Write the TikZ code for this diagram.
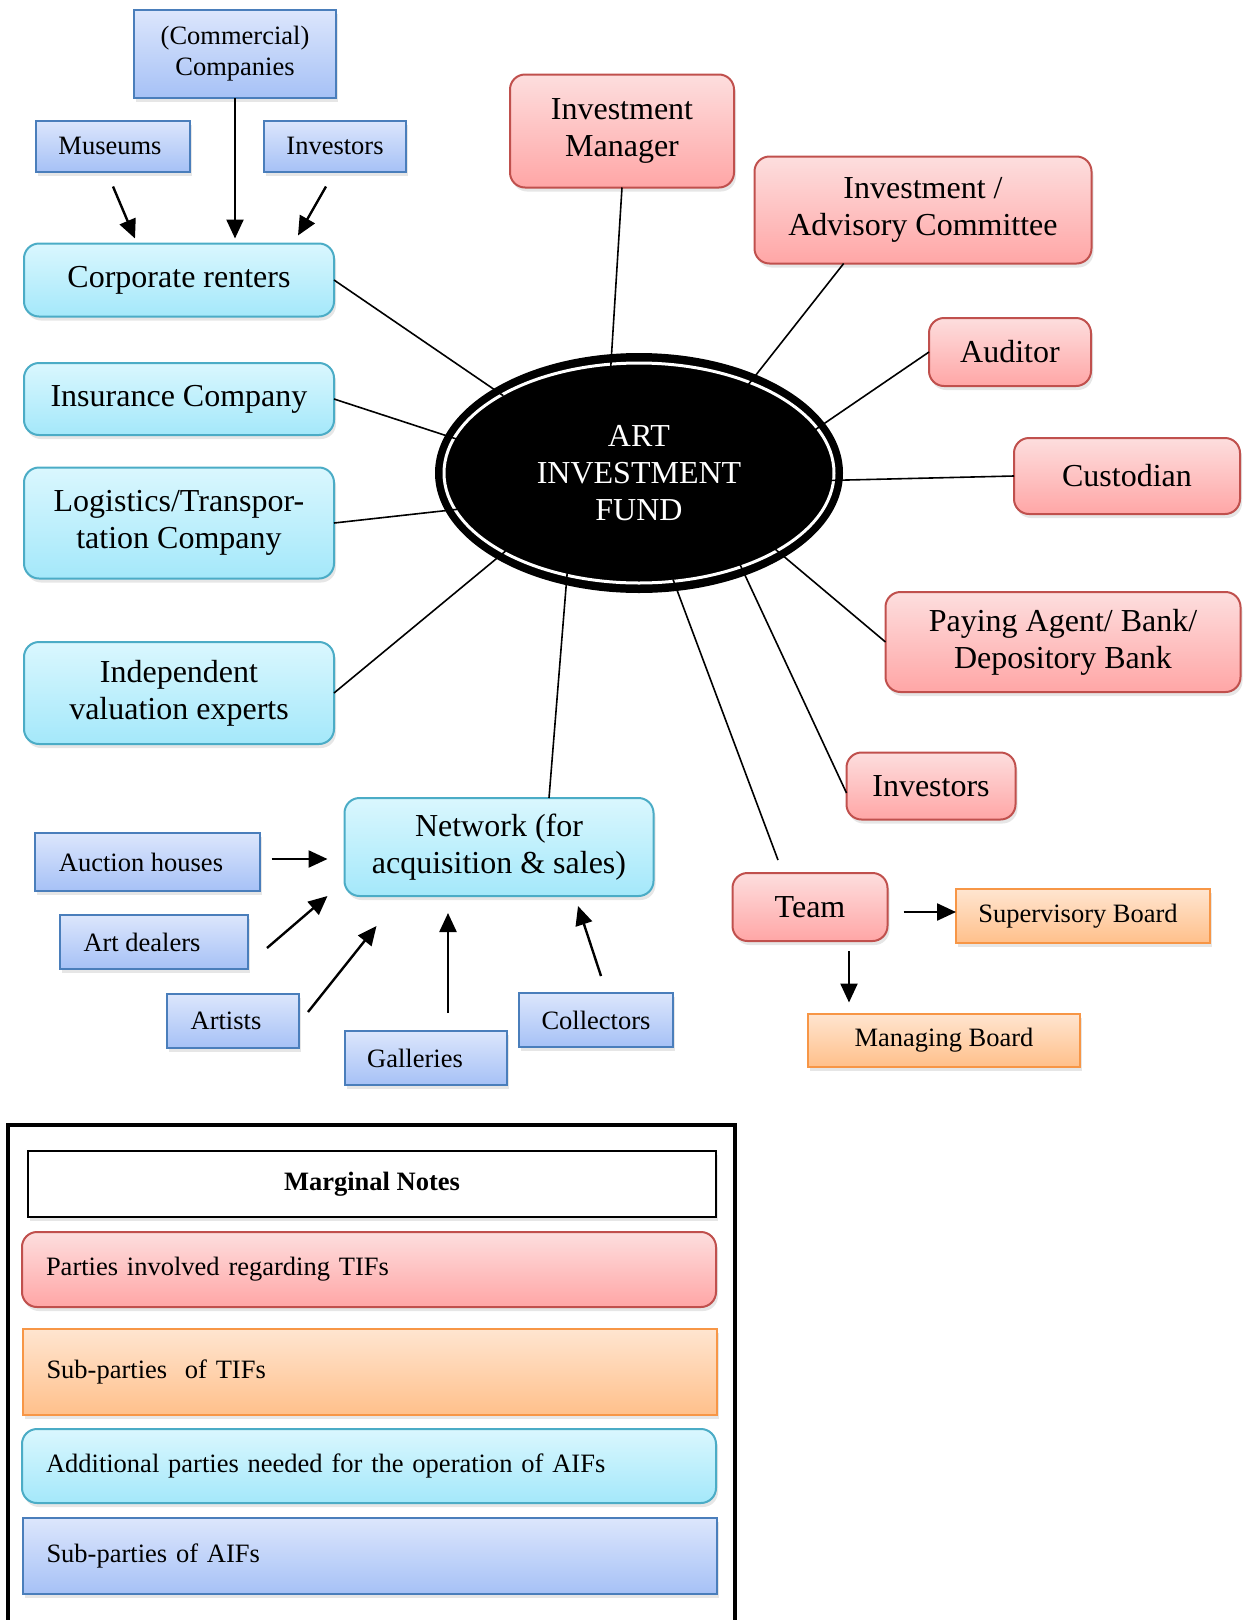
\documentclass[tikz,border=0pt]{standalone}
\usepackage{fontspec}
\setmainfont{Liberation Serif}
\usetikzlibrary{shapes.geometric,arrows.meta,shadows}
\definecolor{bluebd}{HTML}{4A7EBB}
\definecolor{bluetop}{HTML}{DCE6FC}
\definecolor{bluebot}{HTML}{A6C1F6}
\definecolor{cyanbd}{HTML}{4BACC6}
\definecolor{cyantop}{HTML}{DAF7FE}
\definecolor{cyanbot}{HTML}{A4E8FA}
\definecolor{redbd}{HTML}{C0504D}
\definecolor{redtop}{HTML}{FDDEDE}
\definecolor{redbot}{HTML}{FFA6A6}
\definecolor{orgbd}{HTML}{F79646}
\definecolor{orgtop}{HTML}{FFE5D0}
\definecolor{orgbot}{HTML}{FFC08B}
\begin{document}
\begin{tikzpicture}[x=1pt,y=-1pt,
  box/.style={draw, line width=2pt, inner sep=0pt, outer sep=0pt, align=center,
    drop shadow={opacity=0.2,shadow xshift=2pt,shadow yshift=-4pt}},
  bigfont/.style={font=\fontsize{32}{37}\selectfont},
  smallfont/.style={font=\fontsize{26.5}{31}\selectfont},
  bluebox/.style={box, smallfont, draw=bluebd, top color=bluetop, bottom color=bluebot},
  cyanbox/.style={box, bigfont, rounded corners=15pt, draw=cyanbd, top color=cyantop, bottom color=cyanbot},
  redbox/.style={box, bigfont, rounded corners=15pt, draw=redbd, top color=redtop, bottom color=redbot},
  orgbox/.style={box, smallfont, draw=orgbd, top color=orgtop, bottom color=orgbot},
  legend/.style={smallfont, text width=646pt, align=left, inner xsep=24pt},
  link/.style={line width=1.6pt, shorten >=-12pt},
  arr/.style={line width=2.4pt, -{Triangle[length=19pt,width=17pt]}}]
  \useasboundingbox (0,0) rectangle (1246,1620);
  \node[bluebox, minimum width=202pt, minimum height=88pt] (comp) at (235,54) {(Commercial)\\Companies};
  \node[bluebox, minimum width=154pt, minimum height=51pt] (mus) at (113,146) {Museums\hspace*{6pt}};
  \node[bluebox, minimum width=142pt, minimum height=51pt] (invt) at (335,146) {Investors};
  \node[cyanbox, minimum width=310pt, minimum height=73pt] (cr) at (179,280) {Corporate renters};
  \node[cyanbox, minimum width=310pt, minimum height=72pt] (ins) at (179,399) {Insurance Company};
  \node[cyanbox, minimum width=310pt, minimum height=111pt] (logi) at (179,523) {Logistics/Transpor-\\tation Company};
  \node[cyanbox, minimum width=310pt, minimum height=102pt] (indep) at (179,693) {Independent\\valuation experts};
  \node[cyanbox, minimum width=309pt, minimum height=98pt] (net) at (499,847) {Network (for\\acquisition \& sales)};
  \node[bluebox, minimum width=225pt, minimum height=58pt] (auc) at (147,862) {Auction houses\hspace*{12pt}};
  \node[bluebox, minimum width=188pt, minimum height=54pt] (deal) at (154,942) {Art dealers\hspace*{24pt}};
  \node[bluebox, minimum width=132pt, minimum height=54pt] (art) at (233,1021) {Artists\hspace*{14pt}};
  \node[bluebox, minimum width=162pt, minimum height=54pt] (gal) at (426,1058) {Galleries\hspace*{22pt}};
  \node[bluebox, minimum width=154pt, minimum height=54pt] (coll) at (596,1020) {Collectors};
  \node[redbox, minimum width=224pt, minimum height=113pt] (invm) at (622,131) {Investment\\Manager};
  \node[redbox, minimum width=337pt, minimum height=107pt] (comm) at (923,210) {Investment /\\Advisory Committee};
  \node[redbox, minimum width=162pt, minimum height=68pt] (aud) at (1010,352) {Auditor};
  \node[redbox, minimum width=226pt, minimum height=76pt] (cust) at (1127,476) {Custodian};
  \node[redbox, minimum width=355pt, minimum height=100pt] (pay) at (1063,642) {Paying Agent/ Bank/\\Depository Bank};
  \node[redbox, minimum width=169pt, minimum height=67pt] (invr) at (931,786) {Investors};
  \node[redbox, minimum width=155pt, minimum height=68pt] (team) at (810,907) {Team};
  \node[orgbox, minimum width=254pt, minimum height=54pt] (sup) at (1083,916) {Supervisory Board\hspace*{10pt}};
  \node[orgbox, minimum width=272pt, minimum height=53pt] (mgb) at (944,1040) {Managing Board};
  \node[ellipse, fill=black, minimum width=408pt, minimum height=240pt, inner sep=0pt, outer sep=0pt,
    text=white, bigfont, align=center] (fund) at (639,473) {ART\\INVESTMENT\\FUND};
  \draw[white, line width=3pt] (fund.center) ellipse [x radius=195pt, y radius=110pt];
  \draw[link] (cr.east) -- (fund.150);
  \draw[link] (ins.east) -- (fund.169);
  \draw[link] (logi.east) -- (fund.191);
  \draw[link] (indep.east) -- (fund.211);
  \draw[link] ([xshift=50pt]net.north) -- (fund.237);
  \draw[link] ([xshift=-32pt,yshift=13pt]team.north) -- (fund.288);
  \draw[link] ([yshift=-7pt]invr.west) -- (fund.316);
  \draw[link] (pay.west) -- (fund.330);
  \draw[link] (cust.west) -- (fund.358);
  \draw[link] (aud.west) -- (fund.15);
  \draw[link] (comm.214) -- (fund.40);
  \draw[link] (invm.south) -- (fund.103);
  \draw[arr] ([yshift=-15pt]mus.south) -- ([xshift=-44pt,yshift=5pt]cr.north);
  \draw[arr, shorten >=5pt] (comp.south) -- (comp.south |- cr.north);
  \draw[arr] ([xshift=-9pt,yshift=-15pt]invt.south) -- ([xshift=119pt,yshift=8pt]cr.north);
  \draw[arr] ([xshift=12pt,yshift=3pt]auc.east) -- ([xshift=-17pt,yshift=-12pt]net.west);
  \draw[arr] ([xshift=19pt,yshift=-6pt]deal.east) -- ([xshift=-17pt]net.south west);
  \draw[arr] ([xshift=9pt,yshift=9pt]art.east) -- ([xshift=32pt,yshift=-30pt]net.south west);
  \draw[arr] ([xshift=22pt,yshift=18pt]gal.north) -- ([xshift=-51pt,yshift=-17pt]net.south);
  \draw[arr] ([xshift=5pt,yshift=17pt]coll.north) -- ([xshift=79pt,yshift=-10pt]net.south);
  \draw[arr] ([xshift=16pt,yshift=-5pt]team.east) -- ([yshift=4pt]sup.west);
  \draw[arr] ([xshift=39pt,yshift=-10pt]team.south) -- ([xshift=-95pt,yshift=11pt]mgb.north);
  \draw[line width=4pt] (8,1640) -- (8,1125) -- (735,1125) -- (735,1640);
  \node[draw, line width=2pt, fill=white, minimum width=688pt, minimum height=66pt,
    font=\fontsize{26.5}{31}\selectfont\bfseries,
    drop shadow={opacity=0.2,shadow xshift=2pt,shadow yshift=-4pt}] (notes) at (372,1184) {Marginal Notes};
  \node[redbox, legend, minimum height=75pt] (lgred) at (369,1269.5) {Parties involved regarding TIFs};
  \node[orgbox, legend, minimum height=86pt] (lgorg) at (369.5,1372) {Sub-parties~ of TIFs};
  \node[cyanbox, legend, minimum height=74pt] (lgcyan) at (369,1466) {Additional parties needed for the operation of AIFs};
  \node[bluebox, legend, minimum height=76pt] (lgblue) at (369.5,1556) {Sub-parties of AIFs};
\end{tikzpicture}
\end{document}
